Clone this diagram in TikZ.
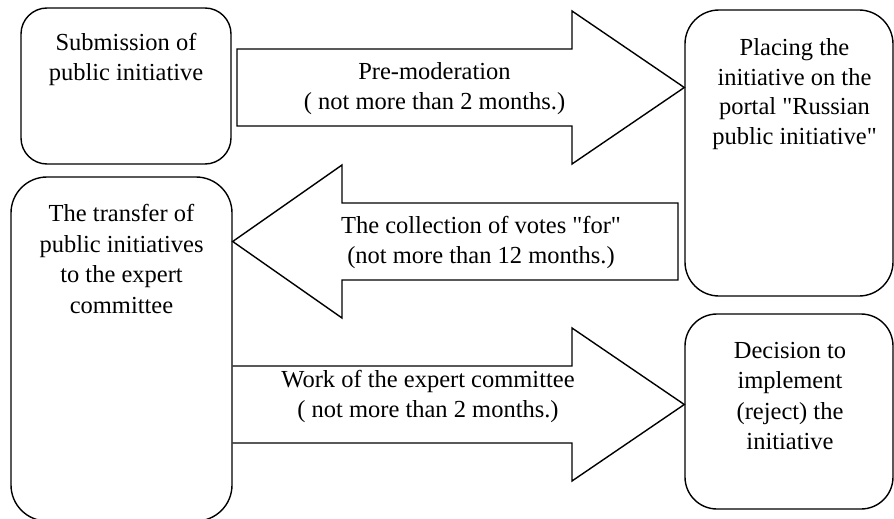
\documentclass[tikz,border=0pt]{standalone}
\usepackage{fontspec}
\setmainfont{Liberation Serif}[Ligatures=TeXOff]
\begin{document}
\begin{tikzpicture}[x=1pt,y=-1pt,line width=1.4pt,
  box/.style={draw,rectangle,inner sep=0pt},
  txt/.style={anchor=base,inner sep=0pt,font=\fontsize{24.5}{30.5}\selectfont},
  txtb/.style={anchor=base,inner sep=0pt,font=\fontsize{24.5}{29.5}\selectfont},
  blockarrow/.style={draw,line join=miter}]
\useasboundingbox (0,0) rectangle (894,519);
% boxes
\node[box,rounded corners=26pt,minimum width=210pt,minimum height=156pt] (b1) at (126,86) {};
\node[box,rounded corners=34pt,minimum width=208pt,minimum height=286pt] (b2) at (789,153) {};
\node[box,rounded corners=36pt,minimum width=221pt,minimum height=344pt] (b3) at (121.5,349) {};
\node[box,rounded corners=32pt,minimum width=208pt,minimum height=195pt] (b4) at (789,411.5) {};
% box texts
\node[txt] (t1) at (126,50.5) {\begin{tabular}[t]{@{}c@{}}Submission of\\public initiative\end{tabular}};
\node[txtb] (t2) at (794.5,56) {\begin{tabular}[t]{@{}c@{}}Placing the\\initiative on the\\portal "Russian\\public initiative"\end{tabular}};
\node[txt] (t3) at (121.5,221.5) {\begin{tabular}[t]{@{}c@{}}The transfer of\\public initiatives\\to the expert\\committee\end{tabular}};
\node[txt] (t4) at (790,358) {\begin{tabular}[t]{@{}c@{}}Decision to\\implement\\(reject) the\\initiative\end{tabular}};
% block arrows
\draw[blockarrow] (237,49) -- (572,49) -- (572,11) -- (b2.west |- 0,87.5) -- (572,164) -- (572,126) -- (237,126) -- cycle;
\draw[blockarrow] (678,203) -- (342,203) -- (342,165) -- (b3.east |- 0,241.5) -- (342,318) -- (342,280) -- (678,280) -- cycle;
\draw[blockarrow] (b3.east |- 0,366) -- (572,366) -- (572,328) -- (b4.west |- 0,404.5) -- (572,481) -- (572,443) -- (b3.east |- 0,443);
% arrow texts
\node[txt] (l1) at (434.5,79.5) {\begin{tabular}[t]{@{}c@{}}Pre-moderation\\( not more than 2 months.)\end{tabular}};
\node[txt] (l2) at (481,233) {\begin{tabular}[t]{@{}c@{}}The collection of votes "for"\\(not more than 12 months.)\end{tabular}};
\node[txt] (l3) at (428,387) {\begin{tabular}[t]{@{}c@{}}Work of the expert committee\\( not more than 2 months.)\end{tabular}};
\end{tikzpicture}
\end{document}
